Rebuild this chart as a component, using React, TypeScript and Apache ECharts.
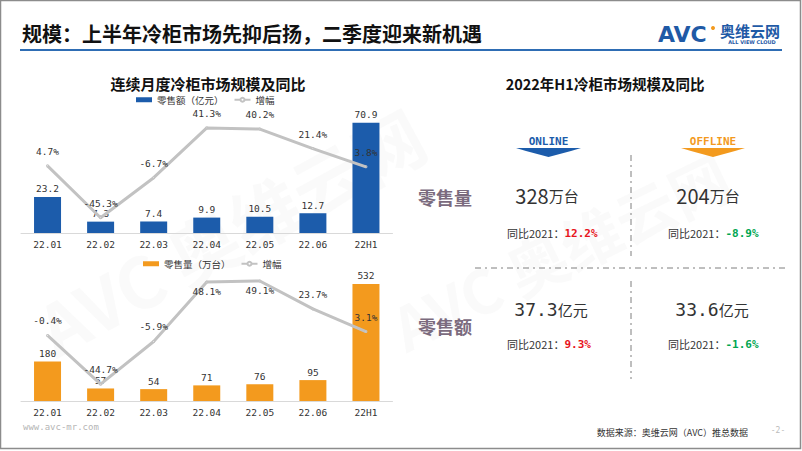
import React, { useEffect, useRef } from "react";
import * as echarts from "echarts";

const categories = ["22.01", "22.02", "22.03", "22.04", "22.05", "22.06", "22H1"];
const salesAmount = [23.2, 7.3, 7.4, 9.9, 10.5, 12.7, 70.9];
const amountGrowth = [4.7, -45.3, -6.7, 41.3, 40.2, 21.4, 3.8];
const salesVolume = [180, 57, 54, 71, 76, 95, 532];
const volumeGrowth = [-0.4, -44.7, -5.9, 48.1, 49.1, 23.7, 3.1];

const channels = ["ONLINE", "OFFLINE"];
const h1Volume = ["328", "204"];
const h1VolumeYoY = ["12.2%", "-8.9%"];
const h1Amount = ["37.3", "33.6"];
const h1AmountYoY = ["9.3%", "-1.6%"];

const BLUE = "#1c5cab";
const ORANGE = "#f39a1e";
const GRAY_LINE = "#c2c2c2";
const MONO = "'DejaVu Sans Mono', 'Liberation Mono', monospace";
const CJK = "'Noto Sans CJK SC', 'Noto Sans', sans-serif";

export default function App() {
  const ref = useRef<HTMLDivElement>(null);
  useEffect(() => {
    if (!ref.current) return;
    const chart = echarts.init(ref.current, null, { renderer: "svg" });

    const barLabel = {
      show: true,
      position: "top" as const,
      distance: 3,
      fontSize: 9.5,
      fontFamily: MONO,
      color: "#333",
    };
    const lineLabel = {
      show: true,
      position: "top" as const,
      distance: 8,
      fontSize: 9.5,
      fontFamily: MONO,
      color: "#333",
      formatter: (p: any) => p.value + "%",
    };

    const colX = [548.5, 713];
    const gText: any[] = [];
    const txt = (text: string, x: number, y: number, font: string, fill: string, align = "center", extra: any = {}) =>
      gText.push({
        type: "text",
        x,
        y,
        silent: true,
        style: { text, font, fill, align, verticalAlign: "middle", ...extra },
      });

    // main title
    txt("规模：上半年冷柜市场先抑后扬，二季度迎来新机遇", 22, 33, `bold 20px ${CJK}`, "#111", "left");
    // logo
    txt("AVC", 658, 34, `900 22px 'DejaVu Sans', sans-serif`, "#1f5aa6", "left");
    txt("奥维云网", 720, 30, `bold 15px ${CJK}`, "#1f5aa6", "left");
    txt("ALL VIEW CLOUD", 752, 42, `bold 5px 'DejaVu Sans', sans-serif`, "#1f5aa6", "center");

    // sub titles
    txt("连续月度冷柜市场规模及同比", 208, 83, `bold 15px ${CJK}`, "#111");
    txt("2022年H1冷柜市场规模及同比", 605, 83, `bold 14.5px ${CJK}`, "#111");

    // channel labels
    txt(channels[0], colX[0], 141, `bold 11px ${MONO}`, BLUE);
    txt(channels[1], colX[1], 141, `bold 11px ${MONO}`, ORANGE);

    txt("零售量", 445, 197, `bold 18px ${CJK}`, "#7b6b7e");
    txt("零售额", 445, 326, `bold 18px ${CJK}`, "#7b6b7e");

    const valueRich = (num: string, unit: string, mono: boolean) => ({
      text: `{n|${num}}{u|${unit}}`,
      rich: {
        n: { font: mono ? `18px ${MONO}` : `20px ${CJK}`, fill: "#333" },
        u: { font: `15px ${CJK}`, fill: "#333" },
      },
    });
    const yoyRich = (v: string) => ({
      text: `{a|同比2021：}{b|${v}}`,
      rich: {
        a: { font: `11px ${CJK}`, fill: "#333" },
        b: { font: `bold 11px ${MONO}`, fill: v.startsWith("-") ? "#00a651" : "#e8141c" },
      },
    });
    for (let i = 0; i < 2; i++) {
      const cx = i === 0 ? 547 : 708;
      gText.push({ type: "text", x: cx, y: 195, silent: true, style: { ...valueRich(h1Volume[i], "万台", false), align: "center", verticalAlign: "middle" } });
      gText.push({ type: "text", x: cx - 40, y: 233, silent: true, style: { ...yoyRich(h1VolumeYoY[i]), align: "left", verticalAlign: "middle" } });
      gText.push({ type: "text", x: cx + 4, y: 309, silent: true, style: { ...valueRich(h1Amount[i], "亿元", true), align: "center", verticalAlign: "middle" } });
      gText.push({ type: "text", x: cx - 40, y: 344, silent: true, style: { ...yoyRich(h1AmountYoY[i]), align: "left", verticalAlign: "middle" } });
    }

    txt("www.avc-mr.com", 23, 427, `9px ${MONO}`, "#b5b5b5", "left");
    txt("数据来源：奥维云网（AVC）推总数据", 748, 432, `9px ${CJK}`, "#333", "right");
    txt("-2-", 778, 430, `8px ${MONO}`, "#bbbbbb", "center");

    const graphic: any[] = [
      // watermark
      {
        type: "text",
        x: 230,
        y: 230,
        rotation: 0.5,
        silent: true,
        style: {
          text: "AVC 奥维云网",
          font: `bold 70px ${CJK}`,
          fill: "rgba(190,190,190,0.08)",
          align: "center",
          verticalAlign: "middle",
        },
      },
      {
        type: "text",
        x: 560,
        y: 250,
        rotation: 0.45,
        silent: true,
        style: {
          text: "AVC 奥维云网",
          font: `bold 60px ${CJK}`,
          fill: "rgba(190,190,190,0.07)",
          align: "center",
          verticalAlign: "middle",
        },
      },
      // border
      { type: "rect", silent: true, shape: { x: 0.5, y: 0.5, width: 800, height: 448 }, style: { fill: "none", stroke: "#8c8c8c", lineWidth: 1.5 } },
      // title underline
      { type: "line", silent: true, shape: { x1: 20, y1: 50, x2: 782, y2: 50 }, style: { stroke: "#2e6db4", lineWidth: 2 } },
      // logo dot
      { type: "circle", silent: true, shape: { cx: 713, cy: 28, r: 2 }, style: { fill: ORANGE } },
      // arrows
      { type: "polygon", silent: true, shape: { points: [[516, 148], [581, 148], [571, 151], [548.5, 157], [526, 151]] }, style: { fill: BLUE } },
      { type: "polygon", silent: true, shape: { points: [[681, 148], [745, 148], [735, 151], [713, 157], [691, 151]] }, style: { fill: ORANGE } },
      // dash-dot separators
      { type: "line", silent: true, shape: { x1: 631, y1: 155, x2: 631, y2: 256 }, style: { stroke: "#7f7f7f", lineWidth: 1, lineDash: [6, 4, 2, 4] } },
      { type: "line", silent: true, shape: { x1: 631, y1: 281, x2: 631, y2: 379 }, style: { stroke: "#7f7f7f", lineWidth: 1, lineDash: [6, 4, 2, 4] } },
      { type: "line", silent: true, shape: { x1: 475, y1: 268, x2: 787, y2: 268 }, style: { stroke: "#7f7f7f", lineWidth: 1, lineDash: [6, 4, 2, 4] } },
      ...gText,
    ];

    const xAxisCommon = {
      type: "category" as const,
      data: categories,
      axisLine: { lineStyle: { color: "#d9d9d9" } },
      axisTick: { show: false },
      axisLabel: { fontSize: 9.5, fontFamily: MONO, color: "#333", margin: 6 },
    };

    // the two peak labels of the volume growth line sit below the line
    const volumeGrowthData = volumeGrowth.map((v, i) =>
      i === 3 || i === 4 ? { value: v, label: { position: "bottom", distance: 3 } } : v
    );

    chart.setOption({
      animation: false,
      graphic,
      legend: [
        {
          top: 95,
          left: 136,
          itemWidth: 16,
          itemHeight: 5,
          itemGap: 10,
          padding: 0,
          textStyle: { fontSize: 9.5, fontFamily: CJK, color: "#333" },
          data: [
            { name: "零售额（亿元）", icon: "rect" },
            { name: "增幅" },
          ],
          selectedMode: false,
        },
        {
          top: 259,
          left: 143,
          itemWidth: 16,
          itemHeight: 5,
          itemGap: 10,
          padding: 0,
          textStyle: { fontSize: 9.5, fontFamily: CJK, color: "#333" },
          data: [
            { name: "零售量（万台）", icon: "rect" },
            { name: "增幅 " },
          ],
          selectedMode: false,
        },
      ],
      grid: [
        { left: 21, width: 371.5, top: 108.5, height: 124.5 },
        { left: 21, width: 371.5, top: 269, height: 132 },
      ],
      xAxis: [
        { ...xAxisCommon, gridIndex: 0 },
        { ...xAxisCommon, gridIndex: 1 },
      ],
      yAxis: [
        { type: "value", gridIndex: 0, min: 0, max: 80, show: false, splitLine: { show: false } },
        { type: "value", gridIndex: 0, min: -60, max: 60, show: false, splitLine: { show: false } },
        { type: "value", gridIndex: 1, min: 0, max: 600, show: false, splitLine: { show: false } },
        { type: "value", gridIndex: 1, min: -60, max: 60, show: false, splitLine: { show: false } },
      ],
      series: [
        {
          name: "零售额（亿元）",
          type: "bar",
          xAxisIndex: 0,
          yAxisIndex: 0,
          data: salesAmount,
          barWidth: 27,
          itemStyle: { color: BLUE },
          label: barLabel,
        },
        {
          name: "增幅",
          type: "line",
          xAxisIndex: 0,
          yAxisIndex: 1,
          data: amountGrowth,
          symbol: "emptyCircle",
          symbolSize: 1,
          itemStyle: { color: GRAY_LINE },
          lineStyle: { color: GRAY_LINE, width: 3 },
          label: lineLabel,
        },
        {
          name: "零售量（万台）",
          type: "bar",
          xAxisIndex: 1,
          yAxisIndex: 2,
          data: salesVolume,
          barWidth: 27,
          itemStyle: { color: ORANGE },
          label: barLabel,
        },
        {
          name: "增幅 ",
          type: "line",
          xAxisIndex: 1,
          yAxisIndex: 3,
          data: volumeGrowthData,
          symbol: "emptyCircle",
          symbolSize: 1,
          itemStyle: { color: GRAY_LINE },
          lineStyle: { color: GRAY_LINE, width: 3 },
          label: lineLabel,
        },
      ],
    });
    return () => chart.dispose();
  }, []);

  return <div ref={ref} style={{ width: 802, height: 451, position: "fixed", left: 0, top: 0, background: "#fff" }} />;
}
